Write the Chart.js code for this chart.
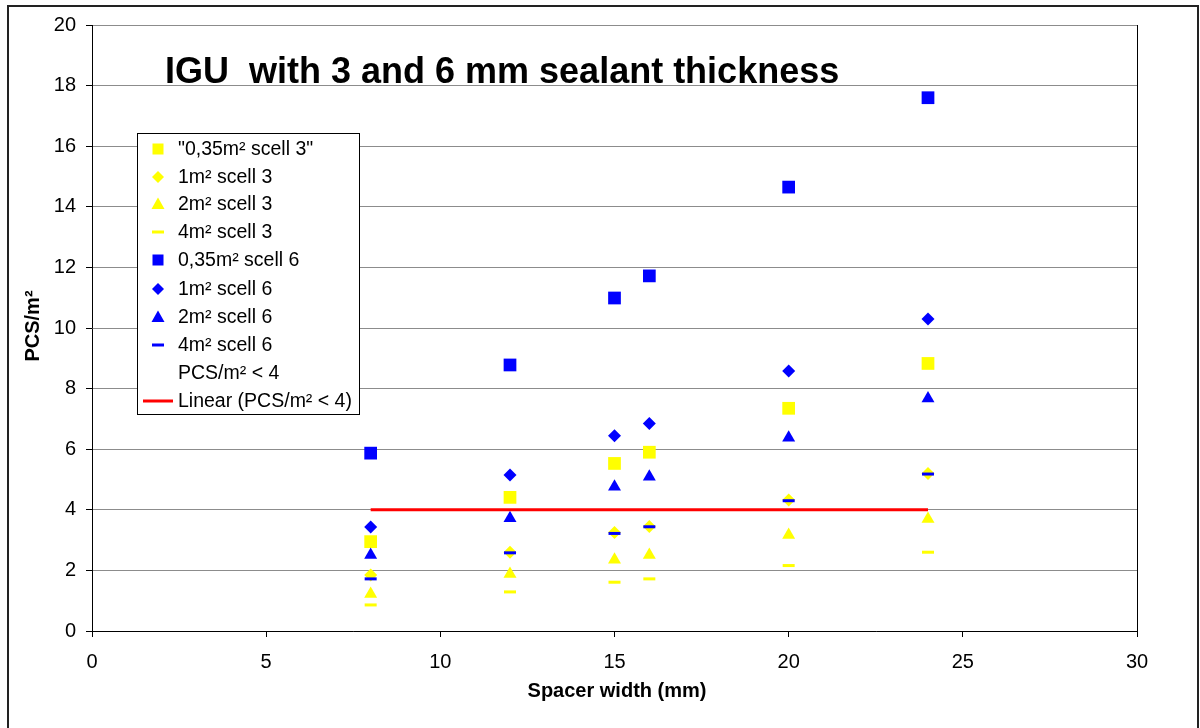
<!DOCTYPE html>
<html>
<head>
<meta charset="utf-8">
<script src="https://cdn.jsdelivr.net/npm/chart.js@4.4.1/dist/chart.umd.min.js"></script>
<style>
  body { margin: 0; background: #fff; }
  #wrap { position: relative; width: 1200px; height: 728px; }
</style>
</head>
<body>
<div id="wrap"><canvas id="chart_root" width="1200" height="728"></canvas></div>
<script>
// Data
const spacerWidths = [8, 12, 15, 16, 20, 24];
const yellowSquare = [2.95, 4.41, 5.53, 5.9, 7.35, 8.83];
const yellowDiamond = [1.85, 2.6, 3.25, 3.45, 4.32, 5.2];
const yellowTriangle = [1.22, 1.88, 2.35, 2.51, 3.17, 3.7];
const yellowDash = [0.86, 1.29, 1.61, 1.72, 2.16, 2.6];
const blueSquare = [5.87, 8.78, 10.99, 11.72, 14.65, 17.6];
const blueDiamond = [3.43, 5.15, 6.44, 6.85, 8.58, 10.3];
const blueTriangle = [2.51, 3.72, 4.76, 5.09, 6.38, 7.67];
const blueDash = [1.72, 2.58, 3.22, 3.44, 4.3, 5.18];
const pcsLimit = [4, 4, 4, 4, 4, 4];
const yTicks = [0, 2, 4, 6, 8, 10, 12, 14, 16, 18, 20];
const xTicks = [0, 5, 10, 15, 20, 25, 30];

const FONT = '"Liberation Sans", Arial, sans-serif';
const YELLOW = '#FFFF00';
const BLUE = '#0000FF';
const RED = '#FF0000';

function toPoints(values) {
  return spacerWidths.map((x, i) => ({ x: x, y: values[i] }));
}

// least squares trend for the "PCS/m² < 4" series
function linearTrend(values) {
  const n = spacerWidths.length;
  const mx = spacerWidths.reduce((a, b) => a + b, 0) / n;
  const my = values.reduce((a, b) => a + b, 0) / n;
  let sxy = 0, sxx = 0;
  spacerWidths.forEach((x, i) => {
    sxy += (x - mx) * (values[i] - my);
    sxx += (x - mx) * (x - mx);
  });
  const slope = sxy / sxx;
  const x0 = spacerWidths[0];
  const x1 = spacerWidths[n - 1];
  return [
    { x: x0, y: my + slope * (x0 - mx) },
    { x: x1, y: my + slope * (x1 - mx) }
  ];
}

function markerSet(label, values, style, color, radius) {
  const isLine = style === 'line';
  return {
    label: label,
    data: toPoints(values),
    pointStyle: style,
    pointRadius: radius,
    pointHoverRadius: radius,
    pointBackgroundColor: color,
    pointBorderColor: color,
    pointBorderWidth: isLine ? 3 : 0,
    showLine: false
  };
}

const datasets = [
  markerSet('"0,35m² scell 3"', yellowSquare, 'rect', YELLOW, 9),
  markerSet('1m² scell 3', yellowDiamond, 'rectRot', YELLOW, 6.5),
  markerSet('2m² scell 3', yellowTriangle, 'triangle', YELLOW, 7.5),
  markerSet('4m² scell 3', yellowDash, 'line', YELLOW, 6),
  markerSet('0,35m² scell 6', blueSquare, 'rect', BLUE, 9),
  markerSet('1m² scell 6', blueDiamond, 'rectRot', BLUE, 6.5),
  markerSet('2m² scell 6', blueTriangle, 'triangle', BLUE, 7.5),
  markerSet('4m² scell 6', blueDash, 'line', BLUE, 6),
  {
    label: 'PCS/m² < 4',
    data: toPoints(pcsLimit),
    pointRadius: 0,
    pointHoverRadius: 0,
    showLine: false
  },
  {
    label: 'Linear (PCS/m² < 4)',
    data: linearTrend(pcsLimit),
    showLine: true,
    borderColor: RED,
    borderWidth: 3,
    pointRadius: 0,
    pointHoverRadius: 0
  }
];
// later series on top, like the original
datasets.forEach((ds, i) => { ds.order = datasets.length - i; });

// legend marker, drawn by hand
function drawMarker(ctx, style, color, x, y) {
  ctx.save();
  ctx.fillStyle = color;
  ctx.strokeStyle = color;
  ctx.beginPath();
  if (style === 'rect') {
    ctx.fillRect(x - 5.5, y - 5.5, 11, 11);
  } else if (style === 'rectRot') {
    ctx.moveTo(x - 6, y); ctx.lineTo(x, y - 6); ctx.lineTo(x + 6, y); ctx.lineTo(x, y + 6);
    ctx.closePath(); ctx.fill();
  } else if (style === 'triangle') {
    ctx.moveTo(x, y - 6.5); ctx.lineTo(x + 6.5, y + 5); ctx.lineTo(x - 6.5, y + 5);
    ctx.closePath(); ctx.fill();
  } else if (style === 'line') {
    ctx.lineWidth = 3;
    ctx.moveTo(x - 6, y); ctx.lineTo(x + 6, y); ctx.stroke();
  } else if (style === 'trend') {
    ctx.lineWidth = 3;
    ctx.moveTo(x - 15, y); ctx.lineTo(x + 15, y); ctx.stroke();
  }
  ctx.restore();
}

const decorPlugin = {
  id: 'decor',
  afterDraw(chart) {
    const ctx = chart.ctx;
    const area = chart.chartArea;
    ctx.save();

    // plot area right edge
    ctx.strokeStyle = '#000';
    ctx.lineWidth = 1;
    ctx.beginPath();
    ctx.moveTo(Math.round(area.right) + 0.5, area.top);
    ctx.lineTo(Math.round(area.right) + 0.5, area.bottom);
    ctx.stroke();

    // outer frame
    ctx.strokeStyle = '#222';
    ctx.lineWidth = 2;
    ctx.strokeRect(8, 6, 1190, 740);

    // title
    ctx.fillStyle = '#000';
    ctx.font = 'bold 36px ' + FONT;
    ctx.textAlign = 'left';
    ctx.textBaseline = 'alphabetic';
    ctx.fillText('IGU  with 3 and 6 mm sealant thickness', 165, 83);

    // axis titles
    ctx.font = 'bold 20px ' + FONT;
    ctx.textAlign = 'center';
    ctx.fillText('Spacer width (mm)', 617, 697);
    ctx.save();
    ctx.translate(39, 326);
    ctx.rotate(-Math.PI / 2);
    ctx.fillText('PCS/m²', 0, 0);
    ctx.restore();

    // legend box
    ctx.fillStyle = '#fff';
    ctx.fillRect(137, 133, 222, 281);
    ctx.strokeStyle = '#000';
    ctx.lineWidth = 1;
    ctx.strokeRect(137.5, 133.5, 222, 281);
    const rowY = [149, 177, 204, 232, 260, 289, 317, 345, 373, 401];
    ctx.font = '19.5px ' + FONT;
    ctx.textAlign = 'left';
    ctx.textBaseline = 'middle';
    chart.data.datasets.forEach((ds, i) => {
      const y = rowY[i];
      if (ds.showLine) {
        drawMarker(ctx, 'trend', ds.borderColor, 158, y);
      } else if (ds.pointRadius > 0) {
        drawMarker(ctx, ds.pointStyle, ds.pointBackgroundColor, 158, y);
      }
      ctx.fillStyle = '#000';
      ctx.fillText(ds.label, 178, y + 1);
    });
    ctx.restore();
  }
};

const ctx = document.getElementById('chart_root');

new Chart(ctx, {
  type: 'scatter',
  data: { datasets: datasets },
  plugins: [decorPlugin],
  options: {
    responsive: false,
    animation: false,
    events: [],
    layout: { padding: { left: 0, top: 25, right: 63, bottom: 0 } },
    plugins: {
      legend: { display: false },
      tooltip: { enabled: false }
    },
    scales: {
      x: {
        type: 'linear',
        min: xTicks[0],
        max: xTicks[xTicks.length - 1],
        afterFit: (scale) => { scale.height = 97; },
        afterBuildTicks: (scale) => { scale.ticks = xTicks.map((v) => ({ value: v })); },
        grid: { drawOnChartArea: false, tickLength: 6, tickColor: '#000' },
        border: { color: '#000', width: 1 },
        ticks: { color: '#000', padding: 13, font: { family: FONT, size: 20 } }
      },
      y: {
        type: 'linear',
        min: yTicks[0],
        max: yTicks[yTicks.length - 1],
        afterFit: (scale) => { scale.width = 92; },
        afterBuildTicks: (scale) => { scale.ticks = yTicks.map((v) => ({ value: v })); },
        grid: { color: '#8c8c8c', tickLength: 6, tickColor: '#000' },
        border: { color: '#000', width: 1 },
        ticks: { color: '#000', padding: 10, font: { family: FONT, size: 20 } }
      }
    }
  }
});
</script>
</body>
</html>
